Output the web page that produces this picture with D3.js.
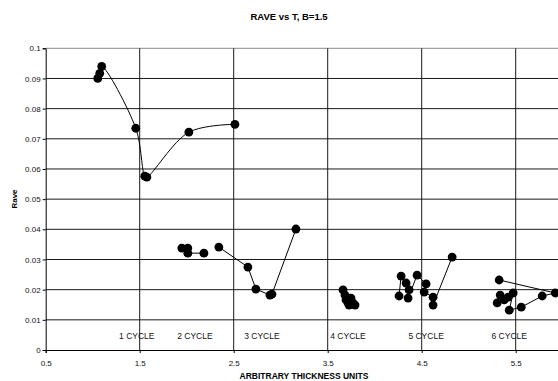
<!DOCTYPE html>
<html>
<head>
<meta charset="utf-8">
<script src="https://cdn.jsdelivr.net/npm/d3@7"></script>
<style>
  html, body { margin: 0; padding: 0; background: #fff; }
  svg { display: block; font-family: Arial, "Liberation Sans", sans-serif; }
</style>
</head>
<body>
<svg id="chart" width="558" height="381"></svg>
<script>
// Series, [thickness, Rave]
const cycle1 = [[1.054, 0.0900], [1.075, 0.0917], [1.096, 0.0940], [1.458, 0.0735],
  [1.554, 0.0576], [1.576, 0.0573], [2.023, 0.0722], [2.513, 0.0748]];
const cycle2 = [[1.948, 0.0338], [2.012, 0.0338], [2.012, 0.0321], [2.183, 0.0321]];
const cycle3 = [[2.342, 0.0341], [2.651, 0.0275], [2.736, 0.0202], [2.885, 0.0182],
  [2.907, 0.0185], [3.162, 0.0401]];
const cycle4 = [[3.663, 0.0199], [3.684, 0.0182], [3.695, 0.0166], [3.716, 0.0156],
  [3.748, 0.0172], [3.769, 0.0156], [3.791, 0.0149], [3.727, 0.0149]];
const cycle5 = [[4.259, 0.0179], [4.281, 0.0245], [4.334, 0.0222], [4.366, 0.0199],
  [4.355, 0.0172], [4.451, 0.0248], [4.547, 0.0219], [4.526, 0.0192], [4.621, 0.0175],
  [4.621, 0.0149], [4.824, 0.0308]];
const cycle6 = [[5.335, 0.0182], [5.303, 0.0156], [5.378, 0.0166], [5.420, 0.0175],
  [5.473, 0.0189], [5.431, 0.0132], [5.559, 0.0142], [5.782, 0.0179], [5.921, 0.0189],
  [5.324, 0.0232]];

const cycleLabels = ['1 CYCLE', '2 CYCLE', '3 CYCLE', '4 CYCLE', '5 CYCLE', '6 CYCLE'];
const labelX = [1.469, 2.087, 2.80, 3.716, 4.547, 5.431];
const labelY = 0.0037;

const xTicks = [0.5, 1.5, 2.5, 3.5, 4.5, 5.5];
const yTicks = d3.range(0, 11).map(d => d / 100);

const margin = { left: 45.7, top: 48.3, bottom: 31 };
const svg = d3.select('#chart');

const x = d3.scaleLinear().domain([0.5, 6]).range([margin.left, margin.left + 5.5 * 94]);
const y = d3.scaleLinear().domain([0, 0.1]).range([350, margin.top]);

// grid
svg.append('g')
  .selectAll('line')
  .data(yTicks.filter(d => d > 0))
  .join('line')
  .attr('x1', margin.left).attr('x2', 558)
  .attr('y1', d => y(d)).attr('y2', d => y(d))
  .attr('stroke', d => d >= 0.1 ? '#8a8a8a' : '#1a1a1a')
  .attr('stroke-width', 1);

svg.append('g')
  .selectAll('line')
  .data(xTicks.slice(1))
  .join('line')
  .attr('x1', d => x(d)).attr('x2', d => x(d))
  .attr('y1', y(0.1)).attr('y2', y(0))
  .attr('stroke', '#1a1a1a')
  .attr('stroke-width', 1);

// axes
const yAxis = d3.axisLeft(y).tickValues(yTicks).tickSize(3).tickPadding(2)
  .tickFormat(d => d === 0 ? '0' : d3.format('.2~f')(d));
const xAxis = d3.axisBottom(x).tickValues(xTicks).tickSize(3).tickPadding(7)
  .tickFormat(d3.format('.1f'));

const gy = svg.append('g').attr('transform', `translate(${margin.left},0)`).call(yAxis);
const gx = svg.append('g').attr('transform', `translate(0,${y(0)})`).call(xAxis);
[gy, gx].forEach(g => {
  g.select('.domain').attr('stroke', '#000');
  g.selectAll('.tick line').attr('stroke', '#000');
  g.selectAll('text').attr('fill', '#111').style('font-size', '8px')
    .style('font-family', 'Arial, "Liberation Sans", sans-serif');
});

// series
const lineSmooth = d3.line().x(d => x(d[0])).y(d => y(d[1])).curve(d3.curveCatmullRom.alpha(0.5));
const lineStraight = d3.line().x(d => x(d[0])).y(d => y(d[1]));

const series = [cycle1, cycle2, cycle3, cycle4, cycle5, cycle6];
series.forEach((s, i) => {
  svg.append('path')
    .attr('d', i === 0 ? lineSmooth(s) : lineStraight(s))
    .attr('fill', 'none')
    .attr('stroke', '#000')
    .attr('stroke-width', 1);
  svg.append('g')
    .selectAll('circle')
    .data(s)
    .join('circle')
    .attr('cx', d => x(d[0]))
    .attr('cy', d => y(d[1]))
    .attr('r', 4.4)
    .attr('fill', '#000');
});

// cycle annotations
svg.append('g')
  .selectAll('text')
  .data(cycleLabels)
  .join('text')
  .attr('x', (d, i) => x(labelX[i]))
  .attr('y', y(labelY))
  .attr('text-anchor', 'middle')
  .style('font-size', '8.5px')
  .attr('fill', '#111')
  .text(d => d);

// titles
svg.append('text')
  .attr('x', 289).attr('y', 20)
  .attr('text-anchor', 'middle')
  .style('font-size', '9.5px').style('font-weight', 'bold')
  .text('RAVE vs T, B=1.5');

svg.append('text')
  .attr('x', 304).attr('y', 379)
  .attr('text-anchor', 'middle')
  .style('font-size', '8.5px').style('font-weight', 'bold')
  .text('ARBITRARY THICKNESS UNITS');

svg.append('text')
  .attr('transform', 'translate(17,199) rotate(-90)')
  .attr('text-anchor', 'middle')
  .style('font-size', '8px').style('font-weight', 'bold')
  .text('Rave');
</script>
</body>
</html>
